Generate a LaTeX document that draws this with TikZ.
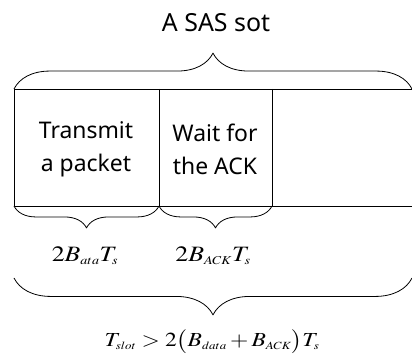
\documentclass[tikz,border=0pt]{standalone}
\usepackage{mathptmx}
\usepackage[no-math]{fontspec}
\usepackage{graphicx}
\setmainfont{Noto Sans}
\DeclareMathSizes{22}{22}{12}{9}
\DeclareMathSizes{20}{20}{11}{8}
\newcommand{\wideeq}[1]{\scalebox{1.18}[1]{#1}}
\usetikzlibrary{decorations.pathreplacing}
\begin{document}
\begin{tikzpicture}[x=1bp,y=1bp,line join=round,line width=0.8pt,
  brc/.style={decorate,decoration={brace,amplitude=#1}},
  mbrc/.style={decorate,decoration={brace,mirror,amplitude=#1}},
  txt/.style={font=\fontsize{23}{33}\selectfont,align=center,inner sep=0pt},
  eq/.style={font=\fontsize{22}{26}\selectfont,inner sep=0pt},
  sumeq/.style={font=\fontsize{20}{24}\selectfont,inner sep=0pt},]
\useasboundingbox (0,0) rectangle (412,356);
%%
\coordinate (tl) at (14bp,267bp);
  \coordinate (tr) at (412bp,267bp);
  \coordinate (bl) at (14bp,150bp);
  \coordinate (br) at (412bp,150bp);
  \coordinate (d1t) at (159bp,267bp);
  \coordinate (d1b) at (159bp,150bp);
  \coordinate (d2t) at (272bp,267bp);
  \coordinate (d2b) at (272bp,150bp);
  \coordinate (sl) at (14bp,78bp);
  \coordinate (sr) at (412bp,78bp);
  \node (title) at (216bp,333bp) [txt,font=\fontsize{25}{30}\selectfont] {A SAS sot};
  \node (tx) at (86bp,207bp) [txt] {Transmit\\a packet};
  \node (wt) at (215bp,207bp) [txt] {Wait for\\the ACK};
  \node (ldata) at (85bp,100bp) [eq] {\wideeq{$2B_{ata}T_s$}};
  \node (lack) at (213bp,100bp) [eq] {\wideeq{$2B_{ACK}T_s$}};
  \node (tslot) at (212bp,14bp) [sumeq] {\wideeq{$T_{slot} > 2\bigl(B_{data} + B_{ACK}\bigr)T_s$}};
  \draw (tl) -- (tr);
  \draw (bl) -- (br);
  \draw (tl) -- (bl);
  \draw (d1t) -- (d1b);
  \draw (d2t) -- (d2b);
  \draw [brc=36] (tl) -- (tr);
  \draw [mbrc=22] (bl) -- (d1b);
  \draw [mbrc=22] (d1b) -- (d2b);
  \draw [mbrc=37] (sl) -- (sr);
%
\end{tikzpicture}
\end{document}
